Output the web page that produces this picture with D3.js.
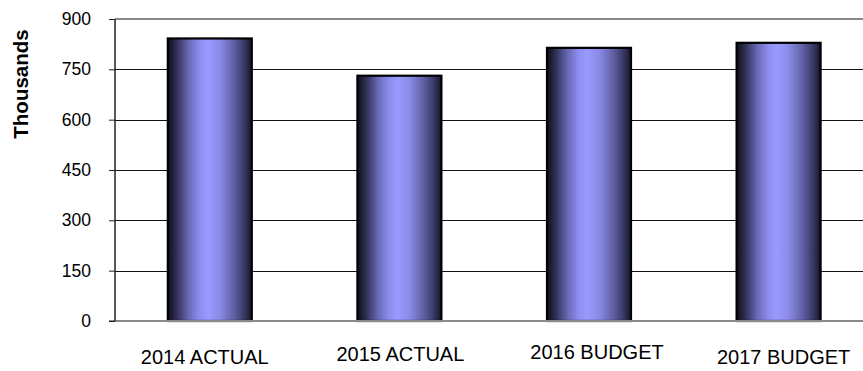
<!DOCTYPE html>
<html>
<head>
<meta charset="utf-8">
<script src="https://cdn.jsdelivr.net/npm/d3@7/dist/d3.min.js"></script>
<style>
  html, body { margin: 0; padding: 0; background: #fff; }
  svg { display: block; font-family: "Liberation Sans", Arial, sans-serif; }
</style>
</head>
<body>
<svg id="chart" width="863" height="371"></svg>
<script>
// Yearly totals, in thousands
const categories = ["2014 ACTUAL", "2015 ACTUAL", "2016 BUDGET", "2017 BUDGET"];
const values = [842, 731, 814, 829];
const yTicks = [0, 150, 300, 450, 600, 750, 900];
const yTitle = "Thousands";

// Small per-label nudges for the category captions (layout only)
const labelNudge = [[-5, 0], [1, -3], [8, -5], [5, 0]];

const svg = d3.select("#chart");
const W = 863, H = 371;
const plot = { left: 115, right: 873.4, top: 19, bottom: 321 };

const x = d3.scaleBand()
  .domain(categories)
  .range([plot.left, plot.right])
  .paddingInner(0.557)
  .paddingOuter(0.2785);

const y = d3.scaleLinear()
  .domain([0, 900])
  .range([plot.bottom, plot.top]);

// Horizontal "cylinder" shading for the bars
const defs = svg.append("defs");
const grad = defs.append("linearGradient")
  .attr("id", "barShade")
  .attr("x1", "0%").attr("x2", "100%")
  .attr("y1", "0%").attr("y2", "0%");
[
  [0, "#0e0e1c"], [0.1, "#2e2e52"], [0.25, "#6a6ab8"], [0.38, "#8e8ef0"],
  [0.48, "#9999ff"], [0.62, "#8a8ae6"], [0.78, "#6262a8"], [0.9, "#3c3c6a"], [1, "#16162a"]
].forEach(([o, c]) => grad.append("stop").attr("offset", o).attr("stop-color", c));

// Gridlines (non-zero, non-top)
svg.append("g")
  .selectAll("line")
  .data(yTicks.filter(t => t !== 0 && t !== 900))
  .join("line")
  .attr("x1", plot.left).attr("x2", W)
  .attr("y1", d => Math.round(y(d)) + 0.5)
  .attr("y2", d => Math.round(y(d)) + 0.5)
  .attr("stroke", "#111")
  .attr("stroke-width", 1);

// Top frame line
svg.append("line")
  .attr("x1", plot.left).attr("x2", W)
  .attr("y1", y(900)).attr("y2", y(900))
  .attr("stroke", "#8a8a8a").attr("stroke-width", 2);

// Bars
svg.append("g")
  .selectAll("rect")
  .data(values)
  .join("rect")
  .attr("x", (d, i) => x(categories[i]))
  .attr("width", x.bandwidth())
  .attr("y", d => y(d))
  .attr("height", d => y(0) - y(d))
  .attr("fill", "url(#barShade)")
  .attr("stroke", "#000")
  .attr("stroke-width", 2.2);

// Baseline
svg.append("line")
  .attr("x1", plot.left - 6).attr("x2", W)
  .attr("y1", y(0)).attr("y2", y(0))
  .attr("stroke", "#8a8a8a").attr("stroke-width", 2);

// Y axis
const yAxis = svg.append("g")
  .attr("transform", `translate(${plot.left},0)`)
  .call(d3.axisLeft(y).tickValues(yTicks).tickSize(6).tickPadding(18));
yAxis.select(".domain").attr("stroke", "#222").attr("stroke-width", 1.5)
  .attr("d", `M0,${plot.top}V${plot.bottom}`);
yAxis.selectAll(".tick line").attr("stroke", "#222");
yAxis.selectAll(".tick text")
  .attr("fill", "#000")
  .style("font-size", "17.5px")
  .style("font-family", "'Liberation Sans', Arial, sans-serif");

// Category captions
svg.append("g")
  .selectAll("text")
  .data(categories)
  .join("text")
  .attr("x", (d, i) => x(d) + x.bandwidth() / 2 + labelNudge[i][0])
  .attr("y", (d, i) => 364 + labelNudge[i][1])
  .attr("text-anchor", "middle")
  .attr("fill", "#000")
  .style("font-size", "20px")
  .text(d => d);

// Y axis title
svg.append("text")
  .attr("transform", "translate(28,84) rotate(-90)")
  .attr("text-anchor", "middle")
  .attr("fill", "#000")
  .style("font-size", "20.5px")
  .style("font-weight", "bold")
  .text(yTitle);
</script>
</body>
</html>
